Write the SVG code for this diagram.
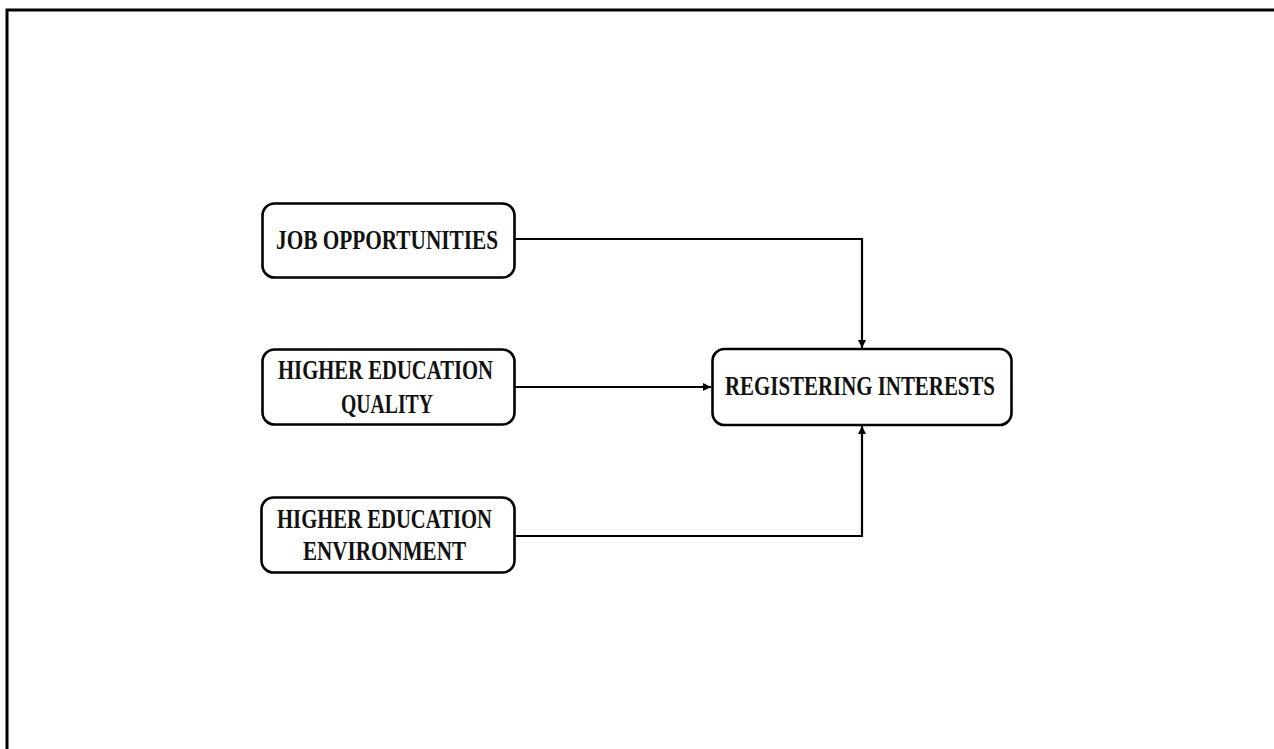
<svg xmlns="http://www.w3.org/2000/svg" width="1274" height="749" viewBox="0 0 1274 749">
  <style>
    .box { fill: #ffffff; stroke: #000000; stroke-width: 2.6; }
    .lbl { font-family: "Liberation Serif", "Times New Roman", serif; font-weight: bold; font-size: 28px; fill: #111111; }
    .wire { fill: none; stroke: #000000; stroke-width: 2.2; }
    .frame { fill: none; stroke: #000000; stroke-width: 3; }
  </style>
  <defs>
    <marker id="arrow" viewBox="0 0 10 10" refX="10" refY="5" markerWidth="3.8" markerHeight="3.8" orient="auto" markerUnits="strokeWidth">
      <path d="M0,0 L10,5 L0,10 Z" fill="#000000"/>
    </marker>
  </defs>

  <rect width="1274" height="749" fill="#ffffff"/>
  <!-- page frame (top and left edges) -->
  <path class="frame" d="M7,749 L7,10 L1274,10"/>

  <g id="connectors">
    <path class="wire" d="M515,239 L862,239 L862,348" marker-end="url(#arrow)"/>
    <path class="wire" d="M515,387 L711,387" marker-end="url(#arrow)"/>
    <path class="wire" d="M515,536 L862,536 L862,426" marker-end="url(#arrow)"/>
  </g>

  <g id="job-opportunities">
    <rect class="box" x="262.5" y="203.5" width="252" height="74" rx="12"/>
    <text class="lbl" x="276" y="249" textLength="222" lengthAdjust="spacingAndGlyphs">JOB OPPORTUNITIES</text>
  </g>

  <g id="higher-education-quality">
    <rect class="box" x="262.5" y="349.5" width="252" height="75" rx="12"/>
    <text class="lbl" x="278" y="379" textLength="215" lengthAdjust="spacingAndGlyphs">HIGHER EDUCATION</text>
    <text class="lbl" x="341" y="413" textLength="92" lengthAdjust="spacingAndGlyphs">QUALITY</text>
  </g>

  <g id="higher-education-environment">
    <rect class="box" x="261.5" y="497.5" width="253" height="75" rx="12"/>
    <text class="lbl" x="277" y="528" textLength="215" lengthAdjust="spacingAndGlyphs">HIGHER EDUCATION</text>
    <text class="lbl" x="303" y="560" textLength="163" lengthAdjust="spacingAndGlyphs">ENVIRONMENT</text>
  </g>

  <g id="registering-interests">
    <rect class="box" x="712.5" y="349" width="299" height="76" rx="12"/>
    <text class="lbl" x="725" y="395" textLength="270" lengthAdjust="spacingAndGlyphs">REGISTERING INTERESTS</text>
  </g>
</svg>
